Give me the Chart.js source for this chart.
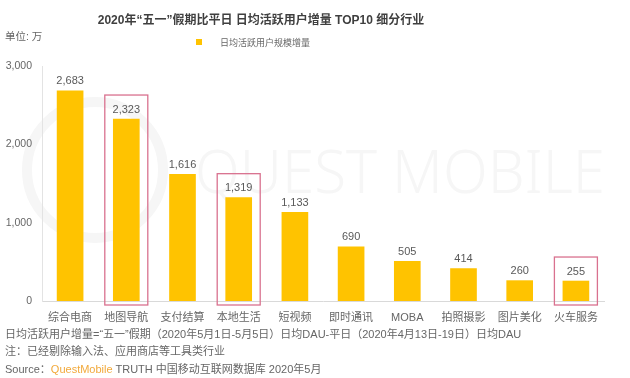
<!DOCTYPE html>
<html>
<head>
<meta charset="utf-8">
<script src="https://cdn.jsdelivr.net/npm/chart.js@4"></script>
<style>
    body { margin: 0; background: #fff; font-family: "Liberation Sans", "Noto Sans CJK SC", sans-serif; }
    #wrap { position: relative; width: 630px; height: 378px; overflow: hidden; }
    #chart { position: absolute; left: 0; top: 0; }
    .txt { position: absolute; white-space: nowrap; color: #666; }
    #title { left: 0; width: 522px; top: 10px; text-align: center; font-size: 12px; font-weight: bold; color: #3f3f3f; }
    #unit { left: 5px; top: 28px; font-size: 10.5px; }
    #legend { left: 196px; top: 36px; font-size: 9px; }
    #legend i { display: inline-block; width: 6px; height: 6px; background: #FFC300; margin-right: 18px; vertical-align: 1px; }
    .note { left: 5px; font-size: 11px; }
    .qm { color: #F2A93B; }
</style>
</head>
<body>
<div id="wrap">
    <canvas id="chart" width="630" height="378"></canvas>
    <div class="txt" id="title">2020年“五一”假期比平日 日均活跃用户增量 TOP10 细分行业</div>
    <div class="txt" id="unit">单位: 万</div>
    <div class="txt" id="legend"><i></i>日均活跃用户规模增量</div>
    <div class="txt note" style="top:325px">日均活跃用户增量=“五一”假期（2020年5月1日-5月5日）日均DAU-平日（2020年4月13日-19日）日均DAU</div>
    <div class="txt note" style="top:342px">注：已经剔除输入法、应用商店等工具类行业</div>
    <div class="txt note" style="top:360px">Source：<span class="qm">QuestMobile</span> TRUTH 中国移动互联网数据库 2020年5月</div>
</div>
<script>
const categories = ['综合电商', '地图导航', '支付结算', '本地生活', '短视频', '即时通讯', 'MOBA', '拍照摄影', '图片美化', '火车服务'];
const dauGrowth = [2683, 2323, 1616, 1319, 1133, 690, 505, 414, 260, 255];
const highlighted = [1, 3, 9];
const yTicks = [0, 1000, 2000, 3000];

// faint watermark, drawn before the axes so labels stay on top
const watermark = {
    id: 'watermark',
    beforeDraw(chart) {
        const c = chart.ctx;
        c.save();
        c.strokeStyle = '#f6f6f6';
        c.lineWidth = 10;
        c.beginPath();
        c.arc(95, 170, 68, 0, Math.PI * 2);
        c.stroke();
        c.fillStyle = '#f6f6f6';
        c.font = '300 60px "Noto Sans", sans-serif';
        c.textBaseline = 'alphabetic';
        const w = c.measureText('QUEST MOBILE').width;
        c.translate(195, 193);
        c.scale(410 / w, 1);
        c.fillText('QUEST MOBILE', 0, 0);
        c.restore();
    }
};

const valueLabels = {
    id: 'valueLabels',
    afterDatasetsDraw(chart) {
        const c = chart.ctx;
        const meta = chart.getDatasetMeta(0);
        const y = chart.scales.y;
        c.save();
        c.font = '11px "Liberation Sans", Arial, sans-serif';
        c.fillStyle = '#595959';
        c.textAlign = 'center';
        c.textBaseline = 'bottom';
        meta.data.forEach((bar, i) => {
            c.fillText(dauGrowth[i].toLocaleString('en-US'), bar.x, bar.y - 4);
        });
        // highlight boxes
        c.strokeStyle = '#D9718F';
        c.lineWidth = 1.3;
        highlighted.forEach(i => {
            const bar = meta.data[i];
            const top = bar.y - 24;
            const bottom = y.getPixelForValue(0) + 4;
            c.strokeRect(bar.x - 21.5, top, 43, bottom - top);
        });
        c.restore();
    }
};

new Chart(document.getElementById('chart'), {
    type: 'bar',
    data: {
        labels: categories,
        datasets: [{
            label: '日均活跃用户规模增量',
            data: dauGrowth,
            backgroundColor: '#FFC300',
            barThickness: 26
        }]
    },
    options: {
        responsive: false,
        animation: false,
        layout: { padding: { top: 66, right: 26, left: 0, bottom: 0 } },
        plugins: {
            legend: { display: false },
            title: { display: false },
            tooltip: { enabled: false }
        },
        scales: {
            x: {
                grid: { display: false, drawTicks: false },
                border: { color: '#d9d9d9' },
                ticks: {
                    color: '#666',
                    font: { size: 11, family: '"Liberation Sans", "Noto Sans CJK SC", sans-serif' },
                    padding: 10,
                    maxRotation: 0,
                    autoSkip: false
                },
                afterFit(scale) { scale.height = 77; }
            },
            y: {
                min: 0,
                max: 3000,
                afterBuildTicks(scale) { scale.ticks = yTicks.map(v => ({ value: v })); },
                grid: { display: false, drawTicks: false },
                border: { color: '#e3e3e3' },
                ticks: {
                    color: '#666',
                    font: { size: 10.5, family: '"Liberation Sans", Arial, sans-serif' },
                    padding: 10,
                    callback: v => v.toLocaleString('en-US')
                },
                afterFit(scale) { scale.width = 42; }
            }
        }
    },
    plugins: [watermark, valueLabels]
});
</script>
</body>
</html>
